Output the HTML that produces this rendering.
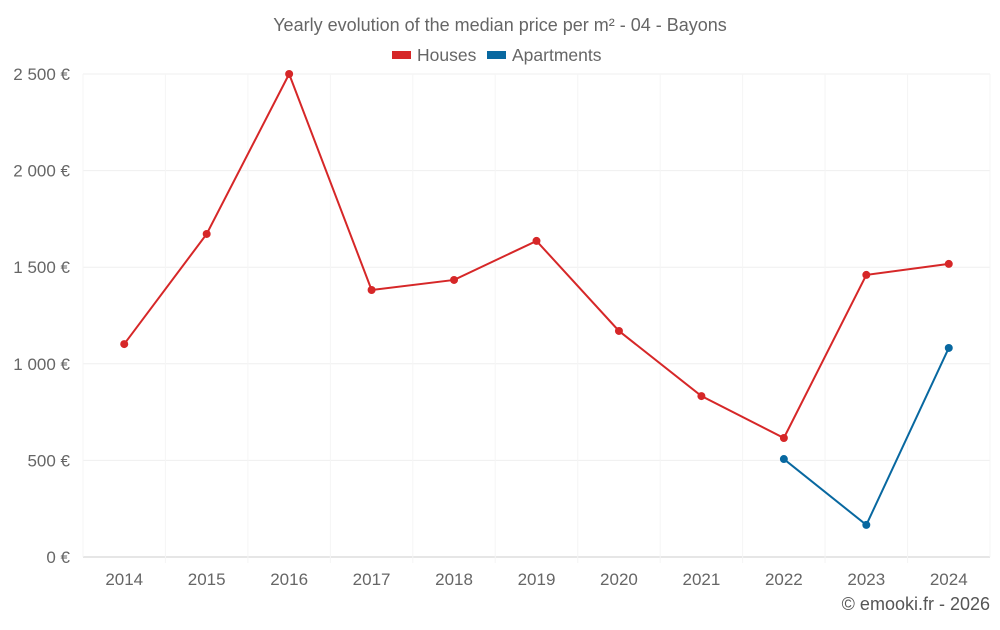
<!DOCTYPE html>
<html><head><meta charset="utf-8"><style>
body{margin:0;background:#fff;font-family:"Liberation Sans",sans-serif}
svg text{font-family:"Liberation Sans",sans-serif}
</style></head><body>
<svg id="chart" width="1000" height="625" viewBox="0 0 1000 625">
<text x="500" y="31" text-anchor="middle" font-size="18" fill="#666">Yearly evolution of the median price per m² - 04 - Bayons</text>
<g><rect x="392" y="51" width="19" height="8" fill="#d62728"/><text x="417" y="61" font-size="17.5" fill="#666">Houses</text></g>
<g><rect x="487" y="51" width="19" height="8" fill="#0868a0"/><text x="512" y="61" font-size="17.5" fill="#666">Apartments</text></g>
<g id="grid"></g><g id="axes"></g><g id="series"></g>
<text x="990" y="610" text-anchor="end" font-size="18" fill="#555">© emooki.fr - 2026</text>
</svg>
<script>
const categories=["2014","2015","2016","2017","2018","2019","2020","2021","2022","2023","2024"];
const houses=[1102,1672,2500,1382,1434,1636,1170,833,616,1460,1517];
const apartments=[null,null,null,null,null,null,null,null,507,166,1082];
const yTicks=[0,500,1000,1500,2000,2500];
const yTickLabels=["0 €","500 €","1 000 €","1 500 €","2 000 €","2 500 €"];
const L=83,R=990,T=74,B=557,NS="http://www.w3.org/2000/svg";
const bw=(R-L)/categories.length;
const x=i=>L+bw*(i+0.5);
const y=v=>B-(v/2500)*(B-T);
function mk(tag,attrs,parent){const e=document.createElementNS(NS,tag);for(const k in attrs)e.setAttribute(k,attrs[k]);document.getElementById(parent).appendChild(e);return e;}
yTicks.forEach((t,i)=>{
 const g=mk("line",{x1:L,x2:R,y1:y(t),y2:y(t),stroke:i?"#efefef":"#ccc"},"grid");
 
 
 const tx=mk("text",{x:70,y:y(t)+6,"text-anchor":"end","font-size":17,fill:"#666"},"axes");
 tx.textContent=yTickLabels[i];
 
 
});
for(let i=0;i<=categories.length;i++){
 const g=mk("line",{x1:L+bw*i,x2:L+bw*i,y1:T,y2:B+(i===0||i===categories.length?0:6),stroke:"#f5f5f5"},"grid");
 
 
}
categories.forEach((c,i)=>{
 const tx=mk("text",{x:x(i),y:585,"text-anchor":"middle","font-size":17,fill:"#666"},"axes");
 tx.textContent=c;
 
 
});
function series(data,color,name){
 const pts=[];data.forEach((v,i)=>{if(v!=null)pts.push([x(i),y(v)]);});
 const p=mk("polyline",{points:pts.map(p=>p.join(",")).join(" "),fill:"none",stroke:color,"stroke-width":2},"series");
 
 
 pts.forEach(pt=>{
  const c=mk("circle",{cx:pt[0],cy:pt[1],r:4,fill:color},"series");
  
  
 });
}
series(houses,"#d62728","houses");
series(apartments,"#0868a0","apartments");
</script>
</body></html>
